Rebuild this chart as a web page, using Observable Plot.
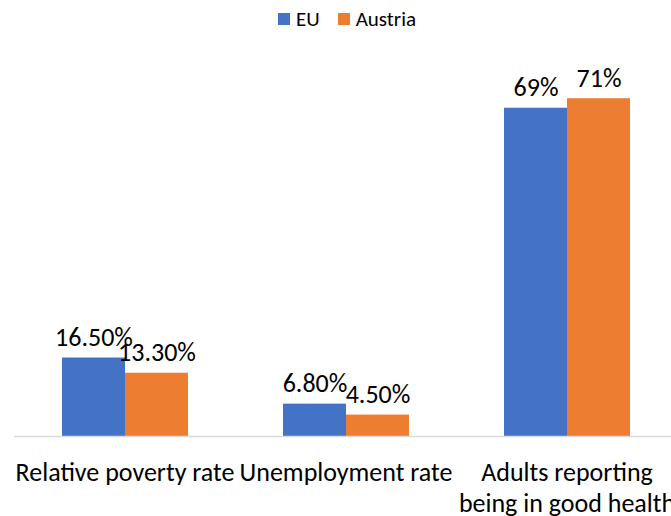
<!DOCTYPE html>
<html><head><meta charset="utf-8">
<script src="https://cdn.jsdelivr.net/npm/d3@7"></script>
<script src="https://cdn.jsdelivr.net/npm/@observablehq/plot@0.6"></script>
<style>
body{margin:0;background:#fff;}
#wrap{width:671px;height:516px;overflow:hidden;position:relative;background:#fff;}
.legend{height:38px;box-sizing:border-box;display:flex;justify-content:center;align-items:center;padding-left:23px;font-family:Carlito,'Open Sans',sans-serif;font-size:21px;color:#000;}
.legend .item{display:flex;align-items:center;margin:0 9px;}
.legend .sw{display:inline-block;width:12px;height:12px;margin-right:6px;}
#chart{width:684px;}
#chart svg{display:block;max-width:none !important;width:684px;height:478px;}
</style></head>
<body><div id="wrap"><div class="legend" id="legend"></div><div id="chart"></div></div>
<script>
const categories = ["Relative poverty rate", "Unemployment rate", "Adults reporting\nbeing in good health"];
const series = ["EU", "Austria"];
const euValues = [16.5, 6.8, 69];
const austriaValues = [13.3, 4.5, 71];
const euLabels = ["16.50%", "6.80%", "69%"];
const austriaLabels = ["13.30%", "4.50%", "71%"];
const colors = ["#4472C4", "#ED7D31"];

const rows = [];
categories.forEach((c, i) => {
  rows.push({cat: c, series: "EU", value: euValues[i], label: euLabels[i]});
  rows.push({cat: c, series: "Austria", value: austriaValues[i], label: austriaLabels[i]});
});

const legend = document.getElementById("legend");
series.forEach((s, i) => {
  const it = document.createElement("div");
  it.className = "item";
  it.innerHTML = `<span class="sw" style="background:${colors[i]}"></span><span>${s}</span>`;
  legend.appendChild(it);
});

const chart = Plot.plot({
  width: 684,
  height: 478,
  marginLeft: 13,
  marginRight: 7,
  marginTop: 17.4,
  marginBottom: 80,
  style: {fontFamily: "Carlito, 'Open Sans', sans-serif", color: "#000", background: "#fff", maxWidth: "none"},
  fx: {domain: categories, padding: 0, label: null},
  x: {domain: series, paddingInner: 0, paddingOuter: 0.744, axis: null},
  y: {domain: [0, 80], axis: null},
  color: {domain: series, range: colors},
  marks: [
    Plot.barY(rows, {fx: "cat", x: "series", y: "value", fill: "series"}),
    Plot.ruleY([0], {stroke: "#d9d9d9", strokeWidth: 1.5}),
    Plot.text(rows, {fx: "cat", x: "series", y: "value", text: "label", lineAnchor: "bottom", dy: -12,
      fontSize: 26, fill: "#000"}),
    Plot.axisFx({anchor: "bottom", tickSize: 0, tickPadding: 22.5, fontSize: 26, lineHeight: 1.19, label: null, fill: "#000"})
  ]
});
document.getElementById("chart").appendChild(chart);
</script>
</body></html>
